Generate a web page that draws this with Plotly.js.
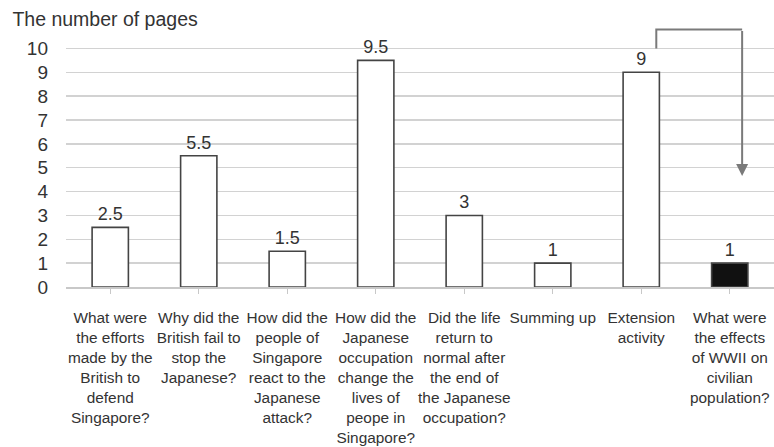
<!DOCTYPE html>
<html><head><meta charset="utf-8">
<script src="https://cdn.plot.ly/plotly-3.0.1.min.js"></script>
<style>html,body{margin:0;padding:0;background:#fff}</style>
</head><body><div id="chart" style="width:774px;height:447px"></div>
<script>
const categories = [
  "What were<br>the efforts<br>made by the<br>British to<br>defend<br>Singapore?",
  "Why did the<br>British fail to<br>stop the<br>Japanese?",
  "How did the<br>people of<br>Singapore<br>react to the<br>Japanese<br>attack?",
  "How did the<br>Japanese<br>occupation<br>change the<br>lives of<br>peope in<br>Singapore?",
  "Did the life<br>return to<br>normal after<br>the end of<br>the Japanese<br>occupation?",
  "Summing up",
  "Extension<br>activity",
  "What were<br>the effects<br>of WWII on<br>civilian<br>population?"
];
const pages = [2.5, 5.5, 1.5, 9.5, 3, 1, 9, 1];
const barColors = ["#ffffff","#ffffff","#ffffff","#ffffff","#ffffff","#ffffff","#ffffff","#111111"];
const yTicks = [0,1,2,3,4,5,6,7,8,9,10];

const FONT = "Liberation Sans, Arial, sans-serif";
const data = [{
  type: "bar",
  x: categories.map((c,i)=>i),
  y: pages,
  width: 0.41,
  marker: {color: barColors, line: {color: "#444", width: 1.6}},
  text: pages.map(String),
  textposition: "outside",
  cliponaxis: false,
  textfont: {family: FONT, size: 18, color: "#333"},
  hoverinfo: "skip"
}];
const layout = {
  width: 774, height: 447,
  margin: {l: 66, r: 0, t: 27, b: 160},
  paper_bgcolor: "#fff", plot_bgcolor: "#fff",
  showlegend: false,
  title: {text: "The number of pages", x: 0.016, xanchor: "left", y: 0.958, yanchor: "middle",
          font: {family: FONT, size: 19.5, color: "#333"}},
  xaxis: {
    tickmode: "array", tickvals: categories.map((c,i)=>i), ticktext: categories,
    range: [-0.5, 7.5], showgrid: false, zeroline: false,
    showline: true, linecolor: "#c8c8c8", linewidth: 1.5,
    ticks: "outside", ticklen: 5, tickcolor: "#c8c8c8", tickson: "boundaries",
    ticklabelstandoff: 11,
    tickfont: {family: FONT, size: 15.4, color: "#333"}, tickangle: 0
  },
  yaxis: {
    range: [0, 10.9], tickmode: "array", tickvals: yTicks,
    showgrid: true, gridcolor: "#d2d2d2", gridwidth: 1.5, zeroline: false,
    ticks: "", ticklabelstandoff: 17, showline: false,
    tickfont: {family: FONT, size: 19, color: "#333"}
  },
  shapes: [{
    type: "path", xref: "x", yref: "y",
    path: "M 6.17,10 L 6.17,10.8 L 7.14,10.8",
    line: {color: "#7a7a7a", width: 2}
  }],
  annotations: [{
    xref: "x", yref: "y", axref: "x", ayref: "y",
    x: 7.14, y: 4.65, ax: 7.14, ay: 10.8,
    showarrow: true, arrowhead: 2, arrowsize: 1.2, arrowwidth: 2, arrowcolor: "#7a7a7a", text: ""
  }]
};
Plotly.newPlot("chart", data, layout, {displayModeBar: false, staticPlot: true});
</script></body></html>
